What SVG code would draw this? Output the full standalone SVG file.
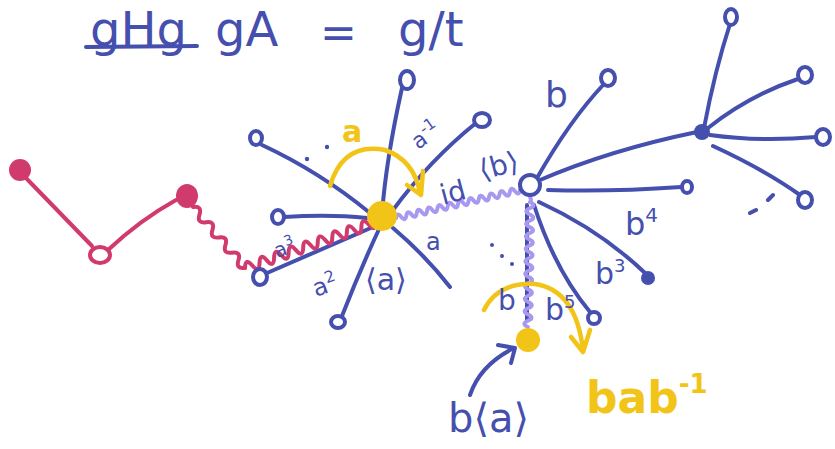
<svg xmlns="http://www.w3.org/2000/svg" width="835" height="449" viewBox="0 0 835 449">
<style>
.b{stroke:#4550ae;stroke-width:4;fill:none;stroke-linecap:round;stroke-linejoin:round}
.ring{stroke:#4550ae;stroke-width:4;fill:#fff}
.dot{fill:#4550ae}
.pk{stroke:#d13a6c;stroke-width:4;fill:none;stroke-linecap:round;stroke-linejoin:round}
.lv{stroke:#a898f0;stroke-width:4;fill:none;stroke-linecap:round;stroke-linejoin:round}
.y{stroke:#f2c417;stroke-width:4.5;fill:none;stroke-linecap:round;stroke-linejoin:round}
.t{font-family:"DejaVu Sans","Liberation Sans",sans-serif;fill:#4550ae}
.ty{font-family:"DejaVu Sans","Liberation Sans",sans-serif;fill:#f2c417;font-weight:bold}
</style>
<rect width="835" height="449" fill="#fff"/>
<g id="title">
<text class="t" x="90" y="46" font-size="48">gHg</text>
<path class="b" d="M86 47 L197 46"/>
<text class="t" x="215" y="46" font-size="48">gA</text>
<text class="t" x="320" y="48" font-size="44">=</text>
<text class="t" x="398" y="46" font-size="48">g/t</text>
</g>
<g id="connectors">
<path class="b" d="M382 214 Q386 160 402 88"/>
<path class="b" d="M393 210 Q430 160 476 123"/>
<path class="b" d="M370 213 Q320 172 262 145"/>
<path class="b" d="M367 218 Q330 214 284 217"/>
<path class="b" d="M373 227 L267 273"/>
<path class="b" d="M380 227 Q360 270 342 316"/>
<path class="b" d="M393 228 Q425 255 450 287"/>
<path class="b" d="M537 178 Q570 120 604 84"/>
<path class="b" d="M540 180 Q610 150 697 132"/>
<path class="b" d="M548 190 Q610 192 681 187"/>
<path class="b" d="M539 202 Q600 230 645 273"/>
<path class="b" d="M534 205 Q555 270 590 312"/>
<path class="b" d="M527 205 L527 320"/>
<path class="b" d="M704 128 Q715 70 730 24"/>
<path class="b" d="M708 128 Q750 95 798 79"/>
<path class="b" d="M710 135 Q760 142 816 137"/>
<path class="b" d="M713 146 Q765 170 800 195"/>
<path class="pk" d="M26 178 L92 246"/>
<path class="pk" d="M108 250 Q140 220 176 200"/>
<path class="pk" transform="translate(193,207) rotate(49.55)" d="M0 0 q5 -8 10 0 t10 0 t10 0 t10 0 t10 0 t10 0 t10 0 t10 0"/>
<path class="pk" transform="translate(245,268) rotate(-19.35)" d="M0 0 q3.86 -10 7.71 0 t7.71 0 t7.71 0 t7.71 0 t7.71 0 t7.71 0 t7.71 0 t7.71 0 t7.71 0 t7.71 0 t7.71 0 t7.71 0 t7.71 0 t7.71 0 t7.71 0 t7.71 0 t7.71 0 t7.71 0"/>
<path class="lv" transform="translate(396,218) rotate(-12.72)" d="M0 0 q2.65 -6 5.3 0 t5.3 0 t5.3 0 t5.3 0 t5.3 0 t5.3 0 t5.3 0 t5.3 0 t5.3 0 t5.3 0 t5.3 0 t5.3 0 t5.3 0 t5.3 0 t5.3 0 t5.3 0 t5.3 0 t5.3 0 t5.3 0 t5.3 0 t5.3 0 t5.3 0 t5.3 0 t5.3 0"/>
<path class="lv" d="M520 190 Q528 187 531 200"/>
<path class="lv" transform="translate(530,202) rotate(91)" d="M0 0 q3.1 -7 6.25 0 t6.25 0 t6.25 0 t6.25 0 t6.25 0 t6.25 0 t6.25 0 t6.25 0 t6.25 0 t6.25 0 t6.25 0 t6.25 0 t6.25 0 t6.25 0 t6.25 0 t6.25 0 t6.25 0 t6.25 0 t6.25 0 t6.25 0"/>
<path class="y" d="M330 186 Q343 142 385 150 Q414 160 420 193"/>
<path class="y" d="M407 185 L421 195 L423 171"/>
<path class="y" d="M484 310 Q498 282 535 284 Q576 290 583 350"/>
<path class="y" d="M571 337 L583 352 L590 330"/>
<path class="b" d="M470 395 Q480 365 514 348"/>
<path class="b" d="M498 345 L515 348 L511 363"/>
</g>
<g id="nodeA"><circle cx="382" cy="216" r="15" fill="#f2c417"/></g>
<g id="nodeA1"><ellipse class="ring" cx="407" cy="80" rx="7" ry="9"/></g>
<g id="nodeA2"><ellipse class="ring" cx="482" cy="120" rx="8" ry="7"/></g>
<g id="nodeA3"><ellipse class="ring" cx="256" cy="138" rx="6" ry="7"/></g>
<g id="nodeA4"><ellipse class="ring" cx="278" cy="217" rx="6" ry="7"/></g>
<g id="nodeA5"><ellipse class="ring" cx="260" cy="277" rx="7" ry="8"/></g>
<g id="nodeA6"><ellipse class="ring" cx="338" cy="322" rx="7" ry="6"/></g>
<g id="nodeB"><circle class="ring" cx="530" cy="185" r="10"/></g>
<g id="nodeB1"><ellipse class="ring" cx="608" cy="78" rx="7" ry="8" stroke-width="5"/></g>
<g id="nodeB2"><ellipse class="ring" cx="687" cy="187" rx="5" ry="6"/></g>
<g id="nodeB3"><circle class="dot" cx="648" cy="278" r="7"/></g>
<g id="nodeB4"><circle class="ring" cx="594" cy="318" r="6" stroke-width="5"/></g>
<g id="hub"><circle class="dot" cx="702" cy="132" r="8"/></g>
<g id="nodeH1"><ellipse class="ring" cx="731" cy="17" rx="6" ry="8"/></g>
<g id="nodeH2"><ellipse class="ring" cx="805" cy="75" rx="7" ry="8"/></g>
<g id="nodeH3"><ellipse class="ring" cx="823" cy="137" rx="7" ry="8"/></g>
<g id="nodeH4"><ellipse class="ring" cx="805" cy="200" rx="7" ry="8"/></g>
<g id="nodeP1"><circle cx="20" cy="170" r="11" fill="#d13a6c"/></g>
<g id="nodeP2"><ellipse cx="100" cy="255" rx="10" ry="8" fill="#fff" stroke="#d13a6c" stroke-width="4"/></g>
<g id="nodeP3"><ellipse cx="187" cy="196" rx="11" ry="12" fill="#d13a6c"/></g>
<g id="nodeY"><circle cx="528" cy="340" r="12" fill="#f2c417"/></g>
<g id="marks">
<circle class="dot" cx="307" cy="159" r="2.2"/>
<circle class="dot" cx="327" cy="147" r="2.2"/>
<circle class="dot" cx="492" cy="245" r="2"/>
<circle class="dot" cx="502" cy="256" r="2"/>
<circle class="dot" cx="512" cy="264" r="2"/>
<path class="b" d="M750 213 L756 210 M768 200 L773 195" stroke-width="3"/>
</g>
<g id="labels">
<text class="ty" x="342" y="142" font-size="30">a</text>
<text class="t" font-size="22" transform="translate(418,150) rotate(-35)">a<tspan dy="-9" font-size="16">-1</tspan></text>
<text class="t" font-size="28" transform="translate(443,205) rotate(-15)">id</text>
<text class="t" font-size="28" transform="translate(482,180) rotate(-15)">⟨b⟩</text>
<text class="t" x="426" y="250" font-size="24">a</text>
<text class="t" x="365" y="290" font-size="30">⟨a⟩</text>
<text class="t" font-size="24" transform="translate(316,297) rotate(-20)">a<tspan dy="-9" font-size="16">2</tspan></text>
<text class="t" font-size="20" transform="translate(277,258) rotate(-20)">a<tspan dy="-8" font-size="14">3</tspan></text>
<text class="t" x="545" y="107" font-size="36">b</text>
<text class="t" x="625" y="235" font-size="32">b<tspan dy="-13" font-size="20">4</tspan></text>
<text class="t" x="595" y="284" font-size="30">b<tspan dy="-12" font-size="18">3</tspan></text>
<text class="t" x="545" y="320" font-size="30">b<tspan dy="-12" font-size="18">5</tspan></text>
<text class="t" x="498" y="310" font-size="28">b</text>
<text class="t" x="448" y="432" font-size="40">b⟨a⟩</text>
<text class="ty" x="586" y="413" font-size="44">bab<tspan dy="-20" font-size="26">-1</tspan></text>
</g>
</svg>
